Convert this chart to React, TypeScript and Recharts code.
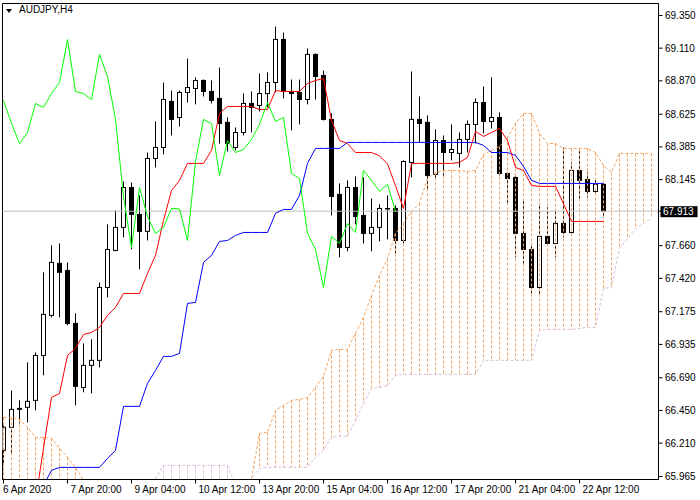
import React from 'react';
import { ComposedChart, Bar, Line, XAxis, YAxis, ReferenceLine, ReferenceArea } from 'recharts';

// AUDJPY H4 candles, one entry per bar (76 bars)
const opens = [
  66.157, 66.326, 66.458, 66.473, 66.524, 66.854, 67.148, 67.530, 67.478, 67.089,
  66.619, 66.781, 66.818, 67.353, 67.625, 67.794, 68.087, 67.889, 67.765, 68.300,
  68.381, 68.719, 68.601, 68.785, 68.814, 68.873, 68.792, 68.741, 68.565, 68.381,
  68.491, 68.704, 68.689, 68.777, 68.858, 69.174, 68.792, 68.785, 68.733, 69.064,
  68.910, 68.587, 68.036, 67.647, 68.087, 67.882, 67.750, 67.794, 67.933, 67.933,
  67.698, 68.271, 68.587, 68.565, 68.183, 68.432, 68.344, 68.337, 68.440, 68.550,
  68.711, 68.572, 68.601, 68.190, 68.161, 67.750, 67.632, 67.353, 67.728, 67.676,
  67.823, 67.757, 68.212, 68.146, 68.058, 68.110,
];
const highs = [
  66.340, 66.597, 66.524, 66.803, 66.876, 67.464, 67.662, 67.676, 67.537, 67.163,
  66.942, 66.972, 67.390, 67.816, 67.919, 68.131, 68.124, 68.029, 68.344, 68.572,
  68.858, 68.799, 68.799, 69.034, 68.895, 68.880, 68.873, 68.968, 68.601, 68.528,
  68.777, 68.792, 68.924, 68.932, 69.269, 69.225, 68.880, 68.880, 69.108, 69.071,
  68.946, 68.631, 68.117, 68.139, 68.168, 68.161, 68.007, 67.963, 68.029, 67.955,
  68.286, 68.939, 68.755, 68.616, 68.513, 68.469, 68.550, 68.491, 68.579, 68.741,
  68.829, 68.895, 68.638, 68.198, 68.176, 67.992, 67.676, 67.970, 67.941, 67.919,
  68.381, 68.271, 68.374, 68.198, 68.146, 68.117,
];
const lows = [
  66.047, 66.135, 66.355, 66.362, 66.451, 66.708, 67.133, 67.133, 67.075, 66.487,
  66.583, 66.575, 66.766, 67.280, 67.618, 67.720, 67.632, 67.486, 67.698, 68.234,
  68.330, 68.469, 68.535, 68.711, 68.697, 68.755, 68.704, 68.410, 68.352, 68.359,
  68.469, 68.491, 68.645, 68.675, 68.785, 68.741, 68.506, 68.550, 68.697, 68.733,
  68.579, 67.882, 67.574, 67.618, 67.816, 67.676, 67.618, 67.691, 67.706, 67.603,
  67.676, 68.161, 68.418, 68.073, 68.153, 68.168, 68.286, 68.234, 68.344, 68.410,
  68.484, 68.520, 68.176, 67.970, 67.574, 67.530, 67.309, 67.295, 67.662, 67.574,
  67.720, 67.750, 68.007, 68.014, 68.043, 67.867,
];
const closes = [
  66.326, 66.458, 66.465, 66.517, 66.854, 67.155, 67.537, 67.464, 67.089, 66.627,
  66.781, 66.818, 67.353, 67.632, 67.794, 68.087, 67.889, 67.765, 68.300, 68.381,
  68.733, 68.587, 68.785, 68.821, 68.873, 68.792, 68.726, 68.557, 68.410, 68.491,
  68.704, 68.675, 68.777, 68.858, 69.174, 68.792, 68.777, 68.733, 69.064, 68.902,
  68.587, 68.021, 67.647, 68.087, 67.875, 67.750, 67.794, 67.933, 67.930, 67.698,
  68.278, 68.587, 68.557, 68.176, 68.432, 68.344, 68.366, 68.440, 68.550, 68.711,
  68.572, 68.601, 68.190, 68.153, 67.750, 67.632, 67.353, 67.728, 67.676, 67.823,
  67.757, 68.212, 68.139, 68.058, 68.110, 67.913,
];

// Ichimoku lines
const tenkan = [
  null, null, null, null, 65.790, 66.172, 66.546, 66.575, 66.854, 66.906,
  67.008, 67.023, 67.060, 67.148, 67.207, 67.309, 67.309, 67.309, 67.456, 67.588,
  67.845, 68.065, 68.139, 68.264, 68.264, 68.264, 68.359, 68.631, 68.682, 68.682,
  68.682, 68.682, 68.660, 68.660, 68.799, 68.792, 68.792, 68.792, 68.851, 68.873,
  68.887, 68.579, 68.432, 68.410, 68.344, 68.344, 68.344, 68.320, 68.260, 68.100,
  67.933, 68.264, 68.264, 68.264, 68.264, 68.264, 68.264, 68.271, 68.308, 68.498,
  68.462, 68.491, 68.520, 68.432, 68.234, 68.212, 68.102, 68.095, 68.095, 68.095,
  67.967, 67.838, 67.838, 67.838, 67.838, 67.838,
];
const kijun = [
  null, null, null, null, null, 65.900, 66.010, 66.032, 66.032, 66.032,
  66.032, 66.032, 66.032, 66.098, 66.157, 66.480, 66.480, 66.480, 66.649, 66.744,
  66.847, 66.847, 66.869, 67.236, 67.243, 67.537, 67.588, 67.691, 67.698, 67.735,
  67.757, 67.757, 67.757, 67.757, 67.897, 67.926, 67.926, 68.029, 68.264, 68.374,
  68.374, 68.374, 68.374, 68.418, 68.418, 68.418, 68.418, 68.418, 68.418, 68.418,
  68.418, 68.418, 68.418, 68.418, 68.418, 68.418, 68.418, 68.418, 68.418, 68.418,
  68.396, 68.344, 68.344, 68.344, 68.322, 68.242, 68.139, 68.117, 68.117, 68.117,
  68.117, 68.117, 68.117, 68.117, 68.117, 68.117,
];
// Senkou spans run 6 bars past the last candle (82 slots)
const spanA = [
  66.399, 66.399, 66.385, 66.326, 66.252, 66.252, 66.245, 66.172, 66.106, 66.032,
  65.937, null, null, null, null, null, null, null, null, 65.800,
  65.800, 65.800, 65.800, 65.800, 65.800, 65.800, 65.800, 65.800, 65.800, 65.800,
  65.800, 65.950, 66.282, 66.289, 66.451, 66.487, 66.524, 66.531, 66.546, 66.619,
  66.700, 66.891, 66.898, 66.898, 67.016, 67.133, 67.295, 67.442, 67.566, 67.750,
  67.823, 67.911, 67.970, 68.153, 68.198, 68.212, 68.212, 68.212, 68.205, 68.212,
  68.330, 68.359, 68.388, 68.454, 68.557, 68.631, 68.631, 68.484, 68.410, 68.410,
  68.374, 68.374, 68.374, 68.374, 68.344, 68.249, 68.198, 68.337, 68.337, 68.337,
  68.337, 68.337,
];
const spanB = [
  65.850, 65.850, 65.850, 65.850, 65.850, 65.850, 65.850, 65.850, 65.850, 65.850,
  65.850, null, null, null, null, null, null, null, null, 65.944,
  66.047, 66.047, 66.047, 66.047, 66.047, 66.047, 66.047, 66.047, 66.047, 65.900,
  65.850, 65.951, 66.025, 66.032, 66.032, 66.032, 66.032, 66.032, 66.032, 66.106,
  66.157, 66.252, 66.260, 66.260, 66.377, 66.502, 66.612, 66.619, 66.634, 66.708,
  66.715, 66.715, 66.715, 66.715, 66.715, 66.715, 66.715, 66.715, 66.715, 66.715,
  66.818, 66.818, 66.818, 66.818, 66.818, 66.818, 66.818, 67.038, 67.045, 67.045,
  67.045, 67.045, 67.052, 67.060, 67.060, 67.346, 67.353, 67.640, 67.713, 67.786,
  67.823, 67.860,
];
const chikouShift = 26;

const timeTicks = [0, 8, 16, 24, 32, 40, 48, 56, 64, 72];
const timeLabels = [
  '6 Apr 2020', '7 Apr 20:00', '9 Apr 04:00', '10 Apr 12:00', '13 Apr 20:00',
  '15 Apr 04:00', '16 Apr 12:00', '17 Apr 20:00', '21 Apr 04:00', '22 Apr 12:00',
];
const priceTicks = [
  69.35, 69.11, 68.87, 68.625, 68.385, 68.145, 67.913, 67.66, 67.42, 67.175,
  66.935, 66.69, 66.45, 66.21, 65.965,
];
const lastPrice = 67.913;

const data = spanA.map((a, i) => {
  const b = spanB[i];
  const hasCandle = i < opens.length;
  const chikou = i + chikouShift < closes.length ? closes[i + chikouShift] : null;
  return {
    i,
    o: hasCandle ? opens[i] : null,
    h: hasCandle ? highs[i] : null,
    l: hasCandle ? lows[i] : null,
    c: hasCandle ? closes[i] : null,
    candle: hasCandle ? [lows[i], highs[i]] : null,
    tenkan: hasCandle ? tenkan[i] : null,
    kijun: hasCandle ? kijun[i] : null,
    chikou,
    a,
    b,
    cloud: a != null && b != null ? [Math.min(a, b), Math.max(a, b)] : null,
  };
});

const FONT = '"Liberation Sans", Arial, sans-serif';

const CandleShape = (props: any) => {
  const { x, y, width, height, payload } = props;
  if (payload.o == null || height == null) return null;
  const cx = Math.floor(x + width / 2) + 0.5;
  const k = height / (payload.h - payload.l);
  const py = (p: number) => y + (payload.h - p) * k;
  const top = py(Math.max(payload.o, payload.c));
  const bot = py(Math.min(payload.o, payload.c));
  const bull = payload.c >= payload.o;
  return (
    <g>
      <line x1={cx} x2={cx} y1={y} y2={y + height} stroke="#000" strokeWidth={1} />
      <rect
        x={cx - 2}
        y={top}
        width={4}
        height={Math.max(bot - top, 0.5)}
        fill={bull ? '#fff' : '#000'}
        stroke="#000"
        strokeWidth={1}
      />
    </g>
  );
};

const HatchShape = (props: any) => {
  const { x, y, width, height, payload } = props;
  if (payload.cloud == null || height == null) return null;
  const cx = Math.floor(x + width / 2) + 0.5;
  return (
    <line
      x1={cx}
      x2={cx}
      y1={y}
      y2={y + height}
      stroke={payload.a >= payload.b ? '#F4A460' : '#D8BFD8'}
      strokeDasharray="3 2"
      strokeWidth={1}
    />
  );
};

const TimeTick = (props: any) => {
  const { x, y, payload } = props;
  const pos = timeTicks.indexOf(payload.value);
  return (
    <text x={x + (pos === 0 ? -0.5 : 3)} y={y + 7.5} fontSize={10} fontFamily={FONT} fill="#000" textAnchor="start">
      {timeLabels[pos]}
    </text>
  );
};

const PriceTick = (props: any) => {
  const { x, y, payload } = props;
  const v = payload.value;
  if (v === lastPrice) {
    return (
      <g>
        <rect x={x - 4} y={y - 5} width={37} height={11} fill="#000" />
        <text x={x - 1.5} y={y + 3.5} fontSize={10} fontFamily={FONT} fill="#fff">
          {v.toFixed(3)}
        </text>
      </g>
    );
  }
  return (
    <text x={x + 0.5} y={y + 3.5} fontSize={10} fontFamily={FONT} fill="#000">
      {v.toFixed(3)}
    </text>
  );
};

export default function App() {
  return (
    <div style={{ position: 'absolute', left: 0, top: 0, width: 700, height: 500, background: '#fff' }}>
      <ComposedChart
        width={700}
        height={500}
        data={data}
        margin={{ top: 3.5, right: 0, bottom: 0, left: 2.5 }}
      >
        <XAxis
          dataKey="i"
          type="number"
          domain={[-0.125, 81.875]}
          allowDataOverflow
          ticks={timeTicks}
          interval={0}
          tick={<TimeTick />}
          tickSize={4}
          tickMargin={2}
          tickLine={{ stroke: '#000' }}
          axisLine={{ stroke: '#000' }}
          height={20.5}
        />
        <XAxis xAxisId="cloud" dataKey="i" type="number" domain={[-0.125, 81.875]} allowDataOverflow hide />
        <YAxis
          orientation="right"
          type="number"
          domain={[65.943, 69.438]}
          allowDataOverflow
          ticks={priceTicks}
          interval={0}
          tick={<PriceTick />}
          tickSize={4}
          tickMargin={2}
          tickLine={{ stroke: '#000' }}
          axisLine={{ stroke: '#000' }}
          width={41.5}
        />
        <YAxis yAxisId="cloud" type="number" domain={[65.943, 69.438]} allowDataOverflow hide />
        <ReferenceLine y={lastPrice} stroke="#C0C0C0" strokeWidth={1} />
        <Bar dataKey="candle" shape={<CandleShape />} isAnimationActive={false} />
        <Bar
          dataKey="cloud"
          xAxisId="cloud"
          yAxisId="cloud"
          shape={<HatchShape />}
          isAnimationActive={false}
        />
        <Line dataKey="a" stroke="#F4A460" strokeWidth={1} strokeDasharray="3 2" dot={false} isAnimationActive={false} />
        <Line dataKey="b" stroke="#D8BFD8" strokeWidth={1} strokeDasharray="3 2" dot={false} isAnimationActive={false} />
        <Line dataKey="kijun" stroke="#0000FF" strokeWidth={1} dot={false} isAnimationActive={false} />
        <Line dataKey="tenkan" stroke="#FF0000" strokeWidth={1} dot={false} isAnimationActive={false} />
        <Line dataKey="chikou" stroke="#00FF00" strokeWidth={1} dot={false} isAnimationActive={false} />
        <ReferenceArea
          x1={-0.125}
          x2={81.875}
          y1={65.943}
          y2={69.438}
          fill="none"
          stroke="#000"
          strokeWidth={1}
          ifOverflow="visible"
        />
      </ComposedChart>
      <div
        style={{
          position: 'absolute',
          left: 6,
          top: 9,
          width: 0,
          height: 0,
          borderLeft: '3.5px solid transparent',
          borderRight: '3.5px solid transparent',
          borderTop: '4px solid #000',
        }}
      />
      <div
        style={{
          position: 'absolute',
          left: 19,
          top: 4,
          fontFamily: FONT,
          fontSize: 10,
          color: '#000',
          lineHeight: '12px',
        }}
      >
        AUDJPY,H4
      </div>
    </div>
  );
}
